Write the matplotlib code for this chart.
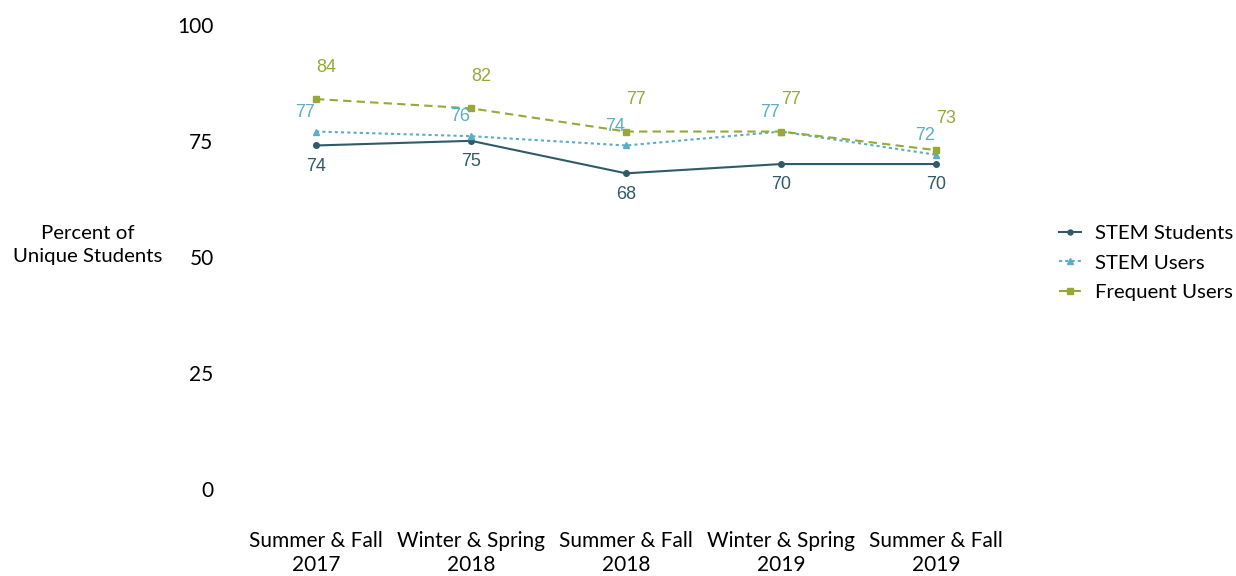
import matplotlib.pyplot as plt
import numpy as np

terms = ['Summer & Fall\n2017', 'Winter & Spring\n2018', 'Summer & Fall\n2018',
         'Winter & Spring\n2019', 'Summer & Fall\n2019']
stem_students = [74, 75, 68, 70, 70]
stem_users = [77, 76, 74, 77, 72]
frequent_users = [84, 82, 77, 77, 73]
yticks = [0, 25, 50, 75, 100]

c_students = '#2f5b68'
c_users = '#5aaec6'
c_freq = '#98a838'

label_font = ['Lato', 'DejaVu Sans']
num_font = ['Liberation Sans', 'DejaVu Sans']


def main():
    fig = plt.figure(figsize=(12.36, 5.76), dpi=100)
    ax = fig.add_axes([0.193, 0.151, 0.627, 0.806])
    x = np.arange(len(terms))

    ax.plot(x, stem_students, color=c_students, lw=1.5, ls='-', marker='o', ms=4,
            label='STEM Students')
    ax.plot(x, stem_users, color=c_users, lw=1.5, ls=(0, (1.5, 1.5)), marker='^', ms=5,
            label='STEM Users')
    ax.plot(x, frequent_users, color=c_freq, lw=1.5, ls=(0, (4, 2.5)), marker='s', ms=4.5,
            label='Frequent Users')

    # data labels
    for i in x:
        ax.annotate(str(stem_students[i]), (i, stem_students[i]), xytext=(0, -15),
                    textcoords='offset points', ha='center', va='center',
                    color=c_students, fontsize=13, family=num_font)
        ax.annotate(str(stem_users[i]), (i, stem_users[i]), xytext=(-8, 14),
                    textcoords='offset points', ha='center', va='center',
                    color=c_users, fontsize=13, family=num_font)
        ax.annotate(str(frequent_users[i]), (i, frequent_users[i]), xytext=(7, 23),
                    textcoords='offset points', ha='center', va='center',
                    color=c_freq, fontsize=13, family=num_font)

    ax.set_xlim(-0.5, len(terms) - 0.5)
    ax.set_ylim(0, 100)
    ax.set_yticks(yticks)
    ax.set_xticks(x)
    ax.set_xticklabels(terms, fontsize=15, family=label_font, linespacing=1.3)
    ax.set_yticklabels([str(v) for v in yticks], fontsize=15, family=label_font)
    ax.tick_params(axis='both', length=0)
    ax.tick_params(axis='y', pad=18)
    ax.tick_params(axis='x', pad=30)
    for s in ax.spines.values():
        s.set_visible(False)

    fig.text(0.071, 0.574, 'Percent of\nUnique Students', ha='center', va='center',
             fontsize=14.7, family=label_font, linespacing=1.42)

    ax.legend(loc='center left', bbox_to_anchor=(1.035, 0.487), frameon=False,
              prop={'family': label_font, 'size': 14.7}, handlelength=1.1,
              handletextpad=0.65, labelspacing=0.6, markerscale=0.9)

    fig.savefig('out.png', dpi=100)


if __name__ == "__main__":
    main()
